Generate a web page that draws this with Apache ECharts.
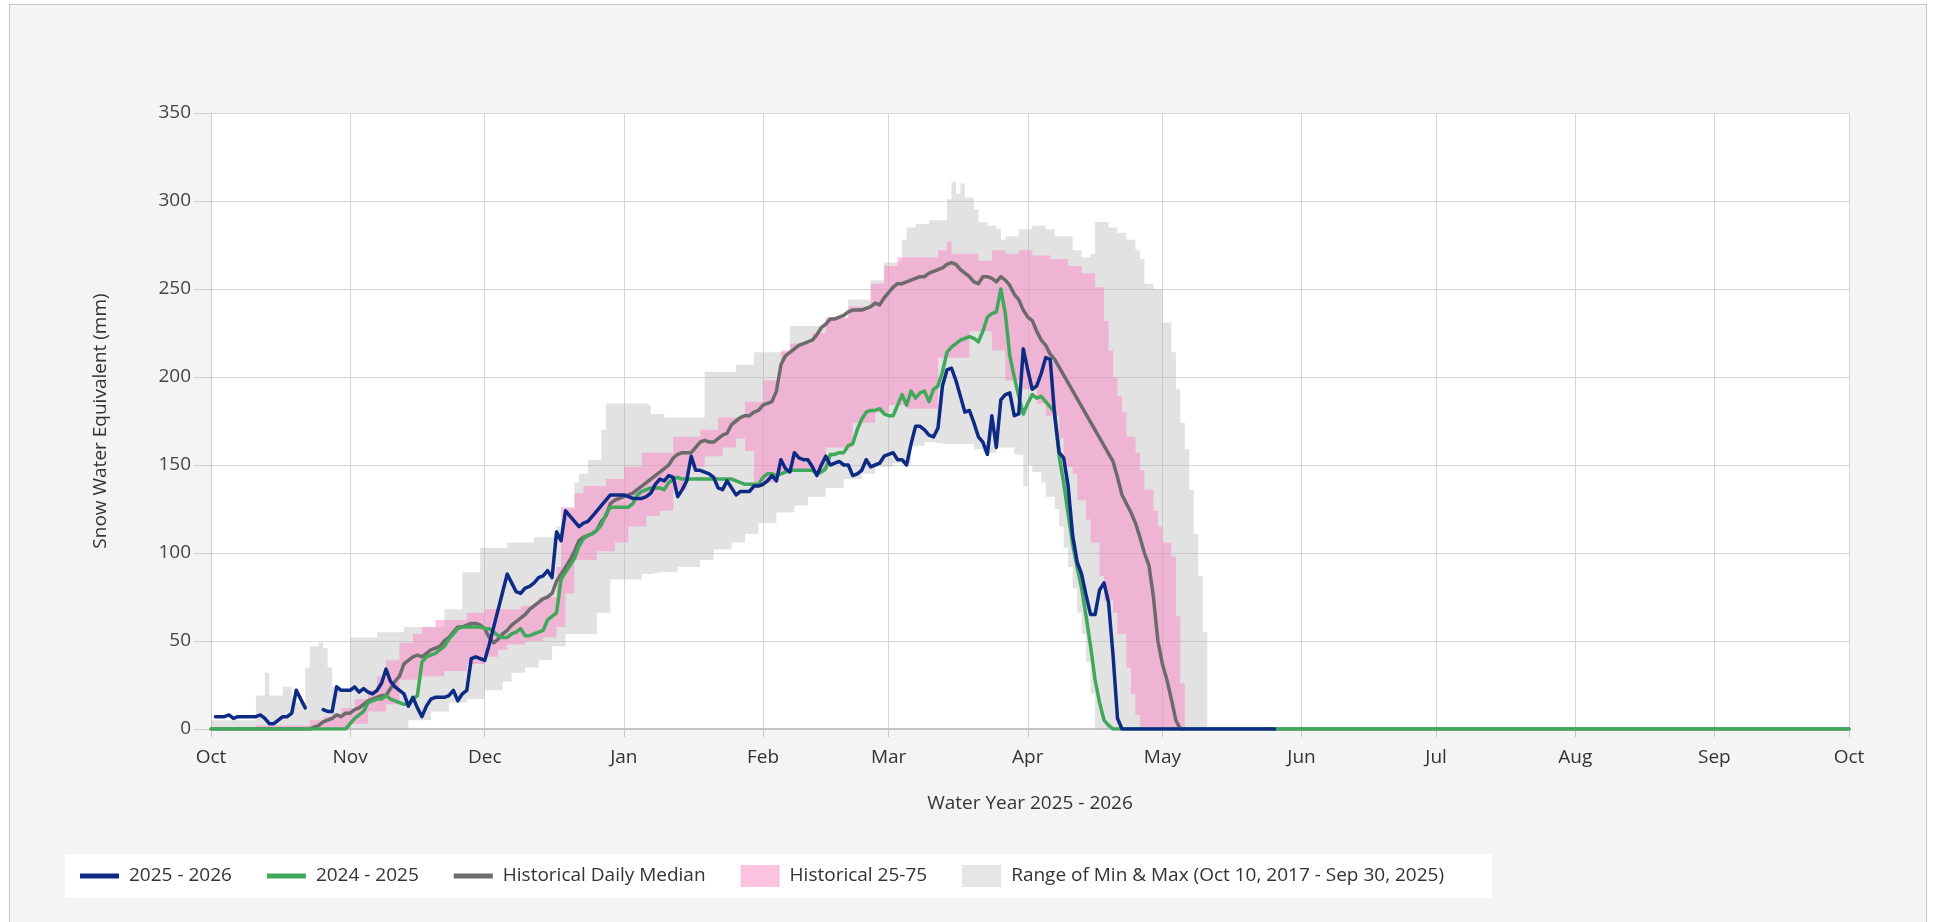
<!DOCTYPE html>
<html>
<head>
<meta charset="utf-8">
<title>Snow Water Equivalent</title>
<script src="https://cdn.jsdelivr.net/npm/echarts@6/dist/echarts.min.js"></script>
<style>
  html, body { margin: 0; padding: 0; background: #ffffff; overflow: hidden; }
  #frame { position: absolute; left: 9px; top: 4px; width: 1916px; height: 940px;
           background: #f4f4f4; border: 1px solid #c8c8c8; }
  #chart { position: absolute; left: 0; top: 0; width: 1933px; height: 922px; }
</style>
</head>
<body>
<div id="frame"></div>
<div id="chart"></div>
<script>
// Water year starts Oct 1, 2025; every point is [day offset from Oct 1, SWE in mm]
const WATER_YEAR_START = [2025, 9, 1];
const WATER_YEAR_DAYS = 365;

const seriesNames = {
  current: '2025 - 2026',
  previous: '2024 - 2025',
  median: 'Historical Daily Median',
  quartiles: 'Historical 25-75',
  range: 'Range of Min & Max (Oct 10, 2017 - Sep 30, 2025)'
};

// 2025 - 2026 daily SWE (null = missing record)
const swe2526 = [[1,7],[2,7],[3,7],[4,8],[5,6],[6,7],[7,7],[8,7],[9,7],[10,7],[11,8],[12,6],[13,3],[14,3],[15,5],[16,7],[17,7],[18,9],[19,22],[20,17],[21,12],[22,null],
  [25,11],[26,10],[27,10],[28,24],[29,22],[30,22],[31,22],[32,24],[33,21],[34,23],[35,21],[36,20],[37,22],[38,26],[39,34],[40,27],[41,24],[42,22],[43,20],[44,13],[45,18],[46,12],[47,7],[48,13],[49,17],[50,18],
  [51,18],[52,18],[53,19],[54,22],[55,16],[56,20],[57,22],[58,40],[59,41],[60,40],[61,39],[62,48],[63,58],[64,68],[65,78],[66,88],[67,83],[68,78],[69,77],[70,80],[71,81],[72,83],[73,86],[74,87],[75,90],
  [76,86],[77,112],[78,107],[79,124],[80,121],[81,118],[82,115],[83,117],[84,118],[85,121],[86,124],[87,127],[88,130],[89,133],[90,133],[91,133],[92,133],[93,132],[94,131],[95,131],[96,131],[97,132],[98,134],[99,139],[100,142],
  [101,141],[102,144],[103,143],[104,132],[105,136],[106,141],[107,155],[108,147],[109,147],[110,146],[111,145],[112,143],[113,137],[114,136],[115,141],[116,137],[117,133],[118,135],[119,135],[120,135],[121,138],[122,138],[123,139],[124,141],[125,144],
  [126,141],[127,153],[128,148],[129,146],[130,157],[131,154],[132,153],[133,153],[134,149],[135,144],[136,150],[137,155],[138,150],[139,151],[140,152],[141,150],[142,150],[143,144],[144,145],[145,147],[146,153],[147,149],[148,150],[149,151],[150,155],
  [151,156],[152,157],[153,153],[154,153],[155,150],[156,162],[157,172],[158,172],[159,170],[160,167],[161,166],[162,171],[163,195],[164,204],[165,205],[166,198],[167,189],[168,180],[169,181],[170,174],[171,166],[172,163],[173,156],[174,178],[175,160],
  [176,187],[177,190],[178,191],[179,178],[180,179],[181,216],[182,204],[183,193],[184,195],[185,202],[186,211],[187,210],[188,178],[189,157],[190,154],[191,138],[192,110],[193,95],[194,88],[195,76],[196,65],[197,65],[198,79],[199,83],[200,72],
  [201,42],[202,6],[203,0],[237,0]];

// 2024 - 2025 daily SWE
const swe2425 = [[0,0],[30,0],[31,3],[32,6],[33,8],[34,10],[35,15],[36,16],[37,17],[38,17],[39,19],[40,17],[41,16],[42,15],[43,14],[44,14],[45,17],[46,19],[47,38],[48,41],[49,42],[50,43],
  [51,45],[52,47],[53,51],[54,54],[55,57],[56,58],[57,58],[58,58],[59,58],[60,58],[61,57],[62,57],[63,55],[64,53],[65,52],[66,52],[67,54],[68,55],[69,57],[70,53],[71,53],[72,54],[73,55],[74,56],[75,62],
  [76,64],[77,66],[78,85],[79,89],[80,93],[81,97],[82,104],[83,108],[84,110],[85,111],[86,113],[87,116],[88,122],[89,126],[90,126],[91,126],[92,126],[93,126],[94,128],[95,133],[96,135],[97,136],[98,137],[99,137],[100,137],
  [101,136],[102,140],[103,142],[104,143],[105,142],[106,142],[107,142],[108,142],[109,142],[110,142],[111,142],[112,142],[113,142],[114,142],[115,142],[116,142],[117,141],[118,140],[119,139],[120,139],[121,139],[122,139],[123,143],[124,145],[125,145],
  [126,144],[127,145],[128,146],[129,147],[130,147],[131,147],[132,147],[133,147],[134,147],[135,145],[136,146],[137,148],[138,156],[139,156],[140,157],[141,157],[142,161],[143,162],[144,170],[145,176],[146,180],[147,181],[148,181],[149,182],[150,179],
  [151,178],[152,178],[153,184],[154,190],[155,184],[156,192],[157,188],[158,191],[159,192],[160,186],[161,193],[162,195],[163,203],[164,214],[165,217],[166,219],[167,221],[168,222],[169,223],[170,222],[171,220],[172,226],[173,234],[174,236],[175,237],
  [176,250],[177,236],[178,212],[179,200],[180,189],[181,179],[182,185],[183,190],[184,188],[185,189],[186,186],[187,183],[188,180],[189,155],[190,140],[191,122],[192,105],[193,92],[194,80],[195,64],[196,47],[197,28],[198,15],[199,5],[200,2],
  [201,0],[365,0]];

// Historical daily median
const sweMedian = [[0,0],[22,0],[23,1],[24,2],[25,4],[26,5],[27,6],[28,8],[29,7],[30,9],[31,9],[32,11],[33,12],[34,14],[35,16],[36,17],[37,18],[38,19],[39,19],[40,23],[41,27],[42,30],[43,37],[44,39],[45,41],[46,42],[47,41],[48,43],[49,45],[50,46],
  [51,47],[52,50],[53,52],[54,55],[55,58],[56,58],[57,59],[58,60],[59,60],[60,59],[61,57],[62,52],[63,49],[64,51],[65,54],[66,56],[67,59],[68,61],[69,63],[70,65],[71,68],[72,70],[73,72],[74,74],[75,75],
  [76,77],[77,84],[78,88],[79,92],[80,96],[81,101],[82,107],[83,109],[84,110],[85,111],[86,113],[87,118],[88,121],[89,128],[90,130],[91,131],[92,132],[93,133],[94,134],[95,136],[96,138],[97,140],[98,142],[99,144],[100,146],
  [101,148],[102,150],[103,154],[104,156],[105,157],[106,157],[107,157],[108,160],[109,163],[110,164],[111,163],[112,163],[113,165],[114,167],[115,168],[116,173],[117,175],[118,177],[119,178],[120,178],[121,180],[122,181],[123,184],[124,185],[125,186],
  [126,192],[127,207],[128,212],[129,214],[130,216],[131,218],[132,219],[133,220],[134,221],[135,224],[136,228],[137,230],[138,233],[139,233],[140,234],[141,235],[142,237],[143,238],[144,238],[145,238],[146,239],[147,240],[148,242],[149,241],[150,245],
  [151,248],[152,251],[153,253],[154,253],[155,254],[156,255],[157,256],[158,257],[159,257],[160,259],[161,260],[162,261],[163,262],[164,264],[165,265],[166,264],[167,261],[168,259],[169,257],[170,254],[171,253],[172,257],[173,257],[174,256],[175,254],
  [176,257],[177,255],[178,252],[179,247],[180,244],[181,238],[182,234],[183,232],[184,226],[185,221],[186,218],[187,213],[188,210],[201,152],[202,143],[203,133],[204,128],[205,123],[206,117],[207,109],[208,100],[209,93],[210,75],
  [211,50],[212,37],[213,28],[214,17],[215,5],[216,0],[365,0]];

// Historical percentiles; each value holds from its day until the next listed day
const sweMax = [[0,5],[10,19],[12,32],[13,19],[16,24],[18,18],[19,15],[21,35],[22,47],[24,49],[25,46],[26,35],[27,24],[29,21],[31,52],[37,55],[43,58],[52,68],[56,89],[60,103],[66,106],[72,109],
  [77,115],[79,125],[81,140],[82,145],[84,153],[87,170],[88,185],[97,184],[98,179],[101,177],[110,203],[117,207],[121,214],[129,229],[137,233],[142,244],[147,255],[150,265],[153,266],[154,278],[155,285],
  [157,287],[160,289],[164,301],[165,311],[166,304],[167,310],[168,302],[170,295],[171,288],[173,286],[175,284],[176,278],[177,280],[180,284],[183,286],[186,284],[188,280],[192,272],[194,268],[196,270],
  [197,288],[200,285],[202,282],[204,278],[206,272],[207,267],[208,253],[210,250],[212,231],[214,214],[215,193],[216,174],[217,159],[218,136],[219,111],[220,87],[221,55],[222,0]];

const sweMin = [[0,0],[44,5],[49,10],[53,15],[57,17],[61,22],[65,27],[67,32],[70,35],[73,39],[76,47],[79,54],[86,66],[89,85],[96,88],[100,89],[104,92],[109,96],[112,102],[116,106],[119,111],
  [122,117],[126,123],[130,127],[133,132],[137,137],[141,142],[145,145],[148,149],[152,151],[156,161],[159,163],[164,162],[170,159],[172,157],[175,160],[179,156],[181,138],[182,150],[183,146],[185,140],
  [186,132],[188,125],[189,115],[190,103],[191,92],[192,80],[193,66],[194,54],[195,38],[196,20],[197,0]];

const sweP75 = [[0,0],[10,2],[22,5],[25,7],[27,9],[29,12],[32,17],[35,22],[37,30],[39,39],[42,49],[45,54],[47,58],[50,62],[57,66],[61,68],[69,70],[73,75],[77,92],[78,126],[81,134],[83,138],[88,142],
  [92,149],[96,157],[103,166],[109,170],[113,177],[119,186],[123,198],[127,215],[129,219],[134,225],[137,234],[142,240],[147,253],[150,263],[153,268],[162,272],[164,277],[165,270],[171,266],[174,272],
  [177,270],[180,272],[183,269],[187,267],[191,263],[194,259],[197,251],[199,232],[200,215],[201,200],[202,189],[203,180],[204,166],[206,157],[207,147],[208,136],[210,124],[211,115],[212,106],[214,98],
  [215,64],[216,26],[217,0]];

const sweP25 = [[0,0],[31,3],[35,10],[39,14],[42,28],[47,30],[52,33],[57,37],[61,41],[64,45],[66,48],[70,50],[74,52],[77,58],[79,77],[81,96],[86,101],[90,106],[93,115],[97,121],[100,124],[103,136],
  [106,149],[110,155],[114,160],[117,165],[119,158],[121,140],[126,146],[137,160],[143,174],[148,180],[151,184],[155,182],[162,211],[169,226],[174,215],[177,198],[181,193],[184,185],[186,178],[189,165],
  [190,149],[192,145],[193,130],[195,119],[196,106],[198,87],[199,73],[201,66],[202,54],[204,35],[205,20],[206,8],[207,0]];

const yTicks = { min: 0, max: 350, interval: 50 };

// ---- helpers ----
function dayToTime(d) {
  return new Date(WATER_YEAR_START[0], WATER_YEAR_START[1], WATER_YEAR_START[2] + d).getTime();
}
function toTimeSeries(list) {
  return list.map(([d, v]) => [dayToTime(d), v]);
}
function stepValue(list, d) {
  let v = 0;
  for (const [k, val] of list) { if (k <= d) v = val; else break; }
  return v;
}
// Lower edge + band thickness on a shared set of days, for stacked areas
function buildBand(lower, upper) {
  const days = Array.from(new Set(lower.map(p => p[0]).concat(upper.map(p => p[0])))).sort((a, b) => a - b);
  const base = days.map(d => [dayToTime(d), stepValue(lower, d)]);
  const span = days.map(d => [dayToTime(d), stepValue(upper, d) - stepValue(lower, d)]);
  return { base, span };
}

const rangeBand = buildBand(sweMin, sweMax);
const quartileBand = buildBand(sweP25, sweP75);

const FONT = '"Open Sans", "Noto Sans", sans-serif';
const FONT_SIZE = 19;
const LINE_ICON = 'path://M0,0H40V5H0Z';

const chart = echarts.init(document.getElementById('chart'), null, { renderer: 'canvas' });

function bandSeries(name, stack, data, fill, swatch) {
  return {
    name, type: 'line', stack, data, step: 'end', symbol: 'none', silent: true,
    lineStyle: { width: 0, color: swatch },
    itemStyle: { color: swatch },
    areaStyle: fill ? { color: fill, opacity: 1 } : undefined,
    emphasis: { disabled: true },
    z: 1
  };
}
function lineSeries(name, data, color, z) {
  return {
    name, type: 'line', data: toTimeSeries(data), symbol: 'none', showSymbol: false,
    connectNulls: false, silent: true,
    lineStyle: { width: 3.5, color, join: 'round', cap: 'round' },
    itemStyle: { color },
    emphasis: { disabled: true },
    z
  };
}

chart.setOption({
  animation: false,
  backgroundColor: 'transparent',
  textStyle: { fontFamily: FONT },
  grid: {
    left: 211, right: 84, top: 113, bottom: 193,
    show: true, backgroundColor: '#ffffff', borderWidth: 0
  },
  xAxis: {
    type: 'time',
    min: dayToTime(0),
    max: dayToTime(WATER_YEAR_DAYS),
    splitNumber: 12,
    minInterval: 28 * 86400000,
    name: 'Water Year 2025 - 2026',
    nameLocation: 'middle',
    nameGap: 65,
    nameTextStyle: { fontFamily: FONT, fontSize: FONT_SIZE, color: '#333333' },
    axisLine: { show: true, lineStyle: { color: '#c4c4c4', width: 2 } },
    axisTick: { show: true, length: 8, lineStyle: { color: '#c8c8c8' } },
    axisLabel: {
      formatter: '{MMM}', margin: 19, fontFamily: FONT, fontSize: FONT_SIZE, color: '#333333',
      showMinLabel: true, showMaxLabel: true, hideOverlap: false
    },
    splitLine: { show: true, lineStyle: { color: '#d6d6d6', width: 1 } }
  },
  yAxis: {
    type: 'value',
    min: yTicks.min, max: yTicks.max, interval: yTicks.interval,
    name: 'Snow Water Equivalent (mm)',
    nameLocation: 'middle',
    nameGap: 101,
    nameTextStyle: { fontFamily: FONT, fontSize: FONT_SIZE, color: '#333333' },
    axisLine: { show: true, lineStyle: { color: '#cfcfcf', width: 1 } },
    axisTick: { show: true, length: 17, lineStyle: { color: '#cfcfcf' } },
    axisLabel: { margin: 20, fontFamily: FONT, fontSize: FONT_SIZE, color: '#444444' },
    splitLine: { show: true, lineStyle: { color: '#d6d6d6', width: 1 } }
  },
  legend: {
    left: 65, top: 854,
    padding: [11, 48, 11, 15],
    itemGap: 35,
    itemWidth: 39, itemHeight: 22,
    backgroundColor: '#ffffff',
    selectedMode: false,
    itemStyle: { borderWidth: 0 },
    textStyle: { fontFamily: FONT, fontSize: FONT_SIZE, color: '#333333', padding: [0, 0, 0, 5] },
    data: [
      { name: seriesNames.current, icon: LINE_ICON },
      { name: seriesNames.previous, icon: LINE_ICON },
      { name: seriesNames.median, icon: LINE_ICON },
      { name: seriesNames.quartiles, icon: 'rect' },
      { name: seriesNames.range, icon: 'rect' }
    ]
  },
  series: [
    bandSeries('range-base', 'range', rangeBand.base, null, 'rgba(0,0,0,0)'),
    bandSeries(seriesNames.range, 'range', rangeBand.span, 'rgba(180,180,180,0.38)', '#e5e5e5'),
    bandSeries('quartile-base', 'quartile', quartileBand.base, null, 'rgba(0,0,0,0)'),
    bandSeries(seriesNames.quartiles, 'quartile', quartileBand.span, 'rgba(251,133,195,0.5)', '#fcc2e0'),
    lineSeries(seriesNames.median, sweMedian, '#6b6b6b', 3),
    lineSeries(seriesNames.previous, swe2425, '#3fa85a', 4),
    lineSeries(seriesNames.current, swe2526, '#0d2a85', 5)
  ]
});
</script>
</body>
</html>
